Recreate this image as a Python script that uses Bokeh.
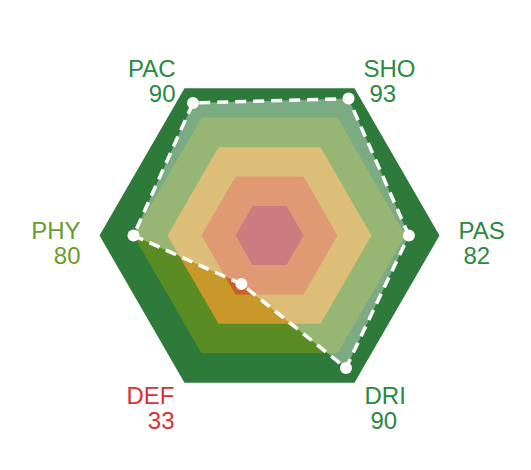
import math
from bokeh.plotting import figure
from bokeh.models import Range1d
from bokeh.core.properties import value
from bokeh.embed import file_html
from bokeh.resources import INLINE

# ---- data ----
attributes = ["PAS", "SHO", "PAC", "PHY", "DEF", "DRI"]   # counter-clockwise from the right
player_values = [82, 93, 90, 80, 33, 90]
band_levels = [100, 80, 60, 40, 20]
band_colors = ["#2e7a3a", "#5b8c24", "#c8982a", "#cc5f22", "#b02e38"]
label_colors = ["#2a8a3e", "#2a8a3e", "#2a8a3e", "#6a9c2c", "#d63333", "#2a8a3e"]

# ---- layout (pixel geometry of the page) ----
W, H = 531, 470
CX, CY = 269, 235          # centre of the radar in pixels
PX_PER_UNIT = 1.7          # 100 units -> 170 px

def px_to_data(px, py):
    return (px - CX) / PX_PER_UNIT, (CY - py) / PX_PER_UNIT

angles = [math.radians(60 * i) for i in range(6)]

p = figure(width=W, height=H, output_backend="svg", toolbar_location=None,
           x_axis_type=None, y_axis_type=None,
           x_range=Range1d(-CX / PX_PER_UNIT, (W - CX) / PX_PER_UNIT),
           y_range=Range1d(-(H - CY) / PX_PER_UNIT, CY / PX_PER_UNIT),
           min_border=0, outline_line_color=None,
           background_fill_color="white", border_fill_color="white")
p.grid.visible = False

# concentric bands
for lvl, col in zip(band_levels, band_colors):
    xs = [lvl * math.cos(a) for a in angles]
    ys = [lvl * math.sin(a) for a in angles]
    p.patch(xs, ys, fill_color=col, line_color=None)

# player polygon
px = [v * math.cos(a) for v, a in zip(player_values, angles)]
py = [v * math.sin(a) for v, a in zip(player_values, angles)]
p.patch(px, py, fill_color="white", fill_alpha=0.37, line_color=None)
p.line(px + [px[0]], py + [py[0]], line_color="white", line_width=3.5,
       line_dash="11 7")
p.scatter(px, py, size=12, fill_color="white", line_color=None)

# labels: (x pixel, align, name baseline, value baseline)
label_layout = {
    "PAS": (458, "left", 230, 255),
    "SHO": (363, "left", 68, 93),
    "PAC": (175, "right", 68, 93),
    "PHY": (80, "right", 230, 255),
    "DEF": (174, "right", 395, 420),
    "DRI": (364, "left", 395, 420),
}
value_dx = {"PAS": 5, "SHO": 6, "DRI": 6}

for name, v, col in zip(attributes, player_values, label_colors):
    xpix, align, yb1, yb2 = label_layout[name]
    x1, y1 = px_to_data(xpix, yb1)
    x2, y2 = px_to_data(xpix + value_dx.get(name, 0), yb2)
    for (tx, ty, txt) in [(x1, y1, name), (x2, y2, str(v))]:
        p.text([tx], [ty], text=[txt], text_align=align, text_baseline="alphabetic",
               text_font=value("Liberation Sans"), text_font_size="24px",
               text_color=col)

open("out.html", "w").write(file_html(p, INLINE))
